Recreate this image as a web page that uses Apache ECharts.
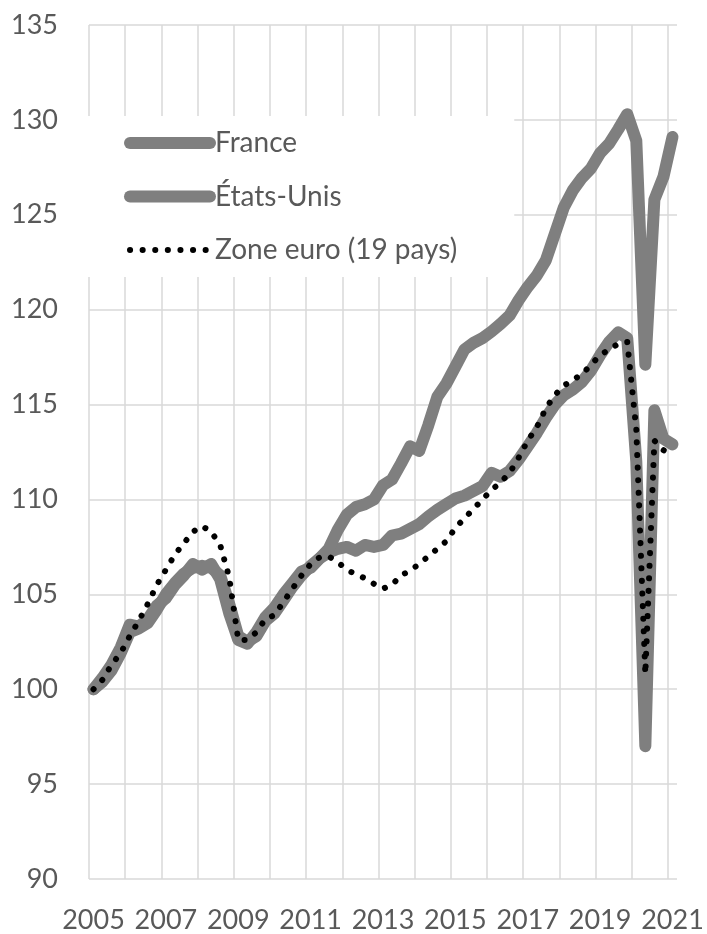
<!DOCTYPE html>
<html>
<head>
<meta charset="utf-8">
<script src="https://cdn.jsdelivr.net/npm/echarts@6.0.0/dist/echarts.min.js"></script>
<style>
  html, body { margin: 0; padding: 0; background: #fff; }
  #main { width: 707px; height: 934px; }
</style>
</head>
<body>
<div id="main"></div>
<script>
// trimestres 2005T1 -> 2021T1, base 100 = 2005T1
const years = [2005, 2006, 2007, 2008, 2009, 2010, 2011, 2012, 2013,
  2014, 2015, 2016, 2017, 2018, 2019, 2020, 2021];
const quarters = [];
years.forEach(y => {
  for (let q = 1; q <= 4; q++) quarters.push(y + 'T' + q);
});
quarters.length = 65;

const france = [
  100.0, 100.4, 101.0, 101.9,
  103.0, 103.2, 103.5, 104.2,
  105.0, 105.6, 106.1, 106.4,
  106.5, 106.4, 106.0, 104.5,
  102.8, 102.5, 102.8, 103.6,
  104.0, 104.7, 105.4, 106.0,
  106.5, 106.9, 107.2, 107.4,
  107.5, 107.3, 107.6, 107.5,
  107.6, 108.1, 108.2, 108.45,
  108.7, 109.1, 109.45, 109.75,
  110.05, 110.2, 110.45, 110.7,
  111.4, 111.2, 111.5, 112.1,
  112.8, 113.5, 114.3, 115.0,
  115.5, 115.8, 116.2, 116.8,
  117.6, 118.3, 118.8, 118.5,
  112.0, 97.0, 114.7, 113.2,
  112.9
];

const etatsUnis = [
  100.0, 100.6, 101.3, 102.2,
  103.4, 103.3, 103.7, 104.4,
  104.8, 105.5, 106.0, 106.6,
  106.3, 106.6, 105.8, 104.0,
  102.6, 102.4, 103.0, 103.8,
  104.3, 105.0, 105.6, 106.2,
  106.4, 106.9, 107.4, 108.4,
  109.2, 109.6, 109.75, 110.0,
  110.75, 111.05, 111.9, 112.8,
  112.55, 113.9, 115.4, 116.1,
  117.0, 117.9, 118.25, 118.5,
  118.85, 119.25, 119.7, 120.5,
  121.2, 121.8, 122.6, 124.0,
  125.4, 126.3, 126.95, 127.45,
  128.25, 128.75, 129.5, 130.3,
  128.9, 117.1, 125.8, 127.0,
  129.1
];

const zoneEuro = [
  100.0, 100.5, 101.3, 101.9,
  102.8, 103.6, 104.5, 105.5,
  106.3, 107.1, 107.7, 108.3,
  108.6, 108.3, 107.6, 105.9,
  102.6, 102.6, 103.0, 103.7,
  103.9, 104.6, 105.3, 106.0,
  106.6, 106.95, 107.0, 106.7,
  106.3, 106.05, 105.85, 105.55,
  105.3, 105.5, 106.0, 106.25,
  106.6, 107.0, 107.4, 107.8,
  108.5, 109.0, 109.5, 110.0,
  110.5, 110.9, 111.4, 112.2,
  113.1, 113.8, 114.8, 115.5,
  116.0, 116.3, 116.6, 117.1,
  117.6, 117.9, 118.2, 118.3,
  113.7, 100.8, 113.1, 112.6,
  112.3
];

const yTicks = { min: 90, max: 135, step: 5 };

const grey = '#7f7f7f';
const textGrey = '#595959';
const gridGrey = '#d9d9d9';
const font = 'Lato';

let myChart = echarts.init(document.getElementById('main'));

// pas de rond au milieu de l'icône de légende
const noMarker = { color: 'rgba(0,0,0,0)', borderWidth: 0 };

let option = {
  animation: false,
  backgroundColor: '#fff',
  textStyle: { fontFamily: font },
  grid: { left: 89, right: 30, top: 25, bottom: 55 },
  legend: {
    orient: 'vertical',
    left: 84,
    top: 116,
    backgroundColor: '#fff',
    padding: [13, 57, 13, 40],
    itemWidth: 80,
    itemHeight: 14,
    itemGap: 25.5,
    textStyle: { color: textGrey, fontSize: 28, lineHeight: 28, fontFamily: font },
    data: [
      { name: 'France', itemStyle: noMarker, lineStyle: { width: 12, cap: 'round', color: grey } },
      { name: 'États-Unis', itemStyle: noMarker, lineStyle: { width: 12, cap: 'round', color: grey } },
      { name: 'Zone euro (19 pays)', itemStyle: noMarker, lineStyle: { width: 6, cap: 'round', type: [0.1, 12.5], color: '#000' } }
    ]
  },
  xAxis: {
    type: 'category',
    data: quarters,
    boundaryGap: true,
    axisLine: { show: false },
    axisTick: { show: false },
    axisLabel: {
      interval: 7,
      margin: 28,
      color: textGrey,
      fontSize: 27,
      formatter: v => v.slice(0, 4)
    },
    splitLine: {
      show: true,
      interval: 3,
      showMaxLine: false,
      lineStyle: { color: gridGrey, width: 1.5 }
    }
  },
  yAxis: {
    type: 'value',
    min: yTicks.min,
    max: yTicks.max,
    interval: yTicks.step,
    axisLine: { show: false },
    axisTick: { show: false },
    axisLabel: { margin: 31, color: textGrey, fontSize: 27 },
    splitLine: { lineStyle: { color: gridGrey, width: 1.5 } }
  },
  series: [
    {
      name: 'France',
      type: 'line',
      data: france,
      symbol: 'none',
      lineStyle: { color: grey, width: 12, cap: 'round', join: 'round' },
      itemStyle: { color: grey }
    },
    {
      name: 'États-Unis',
      type: 'line',
      data: etatsUnis,
      symbol: 'none',
      lineStyle: { color: grey, width: 12, cap: 'round', join: 'round' },
      itemStyle: { color: grey }
    },
    {
      name: 'Zone euro (19 pays)',
      type: 'line',
      data: zoneEuro,
      symbol: 'none',
      z: 3,
      lineStyle: { color: '#000', width: 6, type: [0.1, 12.5], cap: 'round', join: 'round' },
      itemStyle: { color: '#000' }
    }
  ]
};

myChart.setOption(option);
</script>
</body>
</html>
